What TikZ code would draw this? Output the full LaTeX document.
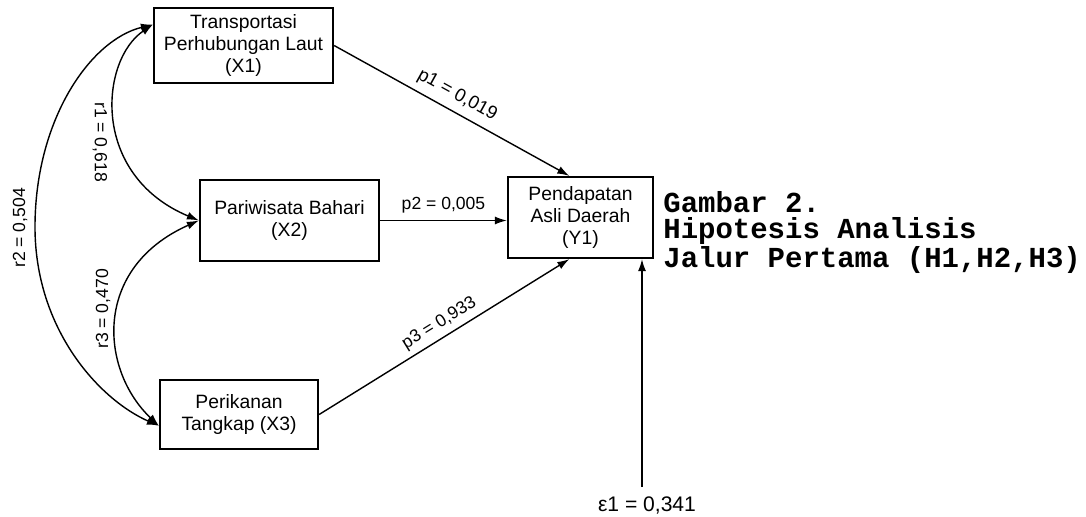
\documentclass[tikz,border=0pt]{standalone}
\usepackage{fontspec}
\setmainfont{Liberation Sans}
\newfontfamily\capfont{Liberation Mono}
\usetikzlibrary{arrows.meta}

\begin{document}
\begin{tikzpicture}[x=0.02cm,y=-0.02cm,
        box/.style={draw,line width=1.3pt,align=center,inner sep=0pt,font=\fontsize{11}{12.8}\selectfont},
        lab/.style={inner sep=1pt,font=\fontsize{10}{12}\selectfont},
        arr/.style={line width=0.8pt,-{Latex[length=2.4mm,width=1.6mm]}},
        dbl/.style={line width=0.8pt,{Latex[length=2.4mm,width=1.6mm]}-{Latex[length=2.4mm,width=1.6mm]}}]
    \useasboundingbox (0,0) rectangle (1086,517);
    % variabel
    \node[box,minimum width=3.58cm,minimum height=1.5cm] (X1) at (243.5,45.5) {Transportasi\\Perhubungan Laut\\(X1)};
    \node[box,minimum width=3.58cm,minimum height=1.62cm] (X2) at (289.5,220.5) {Pariwisata Bahari\\(X2)};
    \node[box,minimum width=3.16cm,minimum height=1.38cm] (X3) at (239,414.5) {Perikanan\\Tangkap (X3)};
    \node[box,minimum width=2.9cm,minimum height=1.62cm] (Y1) at (580.5,217.5) {Pendapatan\\Asli Daerah\\(Y1)};
    % jalur
    \draw[arr] (X1.east) -- node[lab,sloped,above=3pt,pos=0.49,font=\fontsize{10.5}{12}\selectfont]{p1 = 0,019} (Y1.105);
    \draw[arr] (X2.east) -- node[lab,above=3pt]{p2 = 0,005} (X2.east -| Y1.west);
    \draw[arr] (X3.east) -- node[lab,sloped,above=2pt,pos=0.51]{p3 = 0,933} (Y1.255);
    % korelasi
    \draw[dbl] (X1.167) .. controls (100,60) and (90,175) .. (X2.west);
    \draw[dbl] (X1.167) .. controls (90,40) and (35,120) .. (35,227) .. controls (35,330) and (100,400) .. (X3.188);
    \draw[dbl] (X2.west) .. controls (92,268) and (100,370) .. (X3.188);
    \node[lab,rotate=-90] (r1) at (100,142) {r1 = 0,618};
    \node[lab,rotate=90] (r2) at (20,228) {r2 = 0,504};
    \node[lab,rotate=90] (r3) at (103,309) {r3 = 0,470};
    % residu
    \coordinate (etop) at (642,487);
    \node[inner sep=1pt,font=\fontsize{12}{14}\selectfont] (e1) at (647,505) {ε1 = 0,341};
    \draw[arr] (etop) -- (Y1.south -| etop);
    % judul
    \node[anchor=north west,align=left,inner sep=0pt,font=\capfont\bfseries\fontsize{16.5}{14.8}\selectfont] (cap) at (663,191) {Gambar 2.\\Hipotesis Analisis\\Jalur Pertama (H1,H2,H3)};
\end{tikzpicture}
\end{document}
